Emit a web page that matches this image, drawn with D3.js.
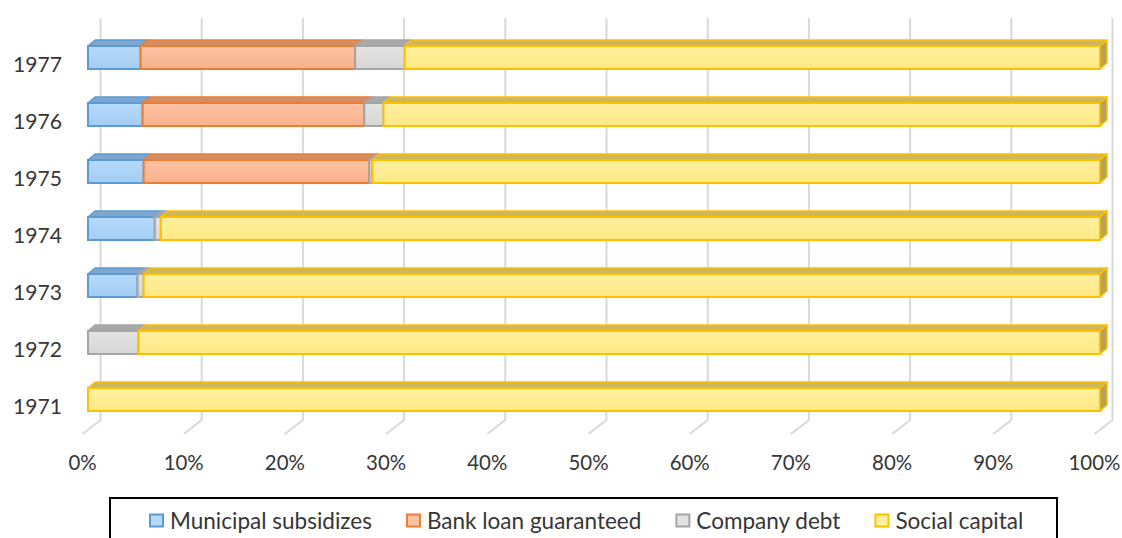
<!DOCTYPE html>
<html>
<head>
<meta charset="utf-8">
<script src="https://cdn.jsdelivr.net/npm/d3@7"></script>
<style>
  html, body { margin: 0; padding: 0; background: #fff; }
  svg { display: block; }
</style>
</head>
<body>
<svg id="chart" width="1122" height="538"></svg>
<script>
// ---- data ----
const years = ["1971", "1972", "1973", "1974", "1975", "1976", "1977"];
const seriesNames = ["Municipal subsidizes", "Bank loan guaranteed", "Company debt", "Social capital"];
const municipal = [0, 0, 4.9, 6.6, 5.5, 5.4, 5.2];
const bank      = [0, 0, 0, 0, 22.3, 21.9, 21.2];
const company   = [0, 5.0, 0.6, 0.6, 0.3, 1.9, 4.9];
const social    = [100, 95.0, 94.5, 92.8, 71.9, 70.8, 68.7];
const tickValues = [0, 0.1, 0.2, 0.3, 0.4, 0.5, 0.6, 0.7, 0.8, 0.9, 1.0];
const tickLabels = ["0%", "10%", "20%", "30%", "40%", "50%", "60%", "70%", "80%", "90%", "100%"];

// ---- styles ----
const styles = {
  "Municipal subsidizes": { front: ["#b7dafb", "#a3cdf3"], top: "#7fa6cf", stroke: "#5b9bd5" },
  "Bank loan guaranteed": { front: ["#fdc3a4", "#f8b18c"], top: "#d38e68", stroke: "#ed7d31" },
  "Company debt":         { front: ["#e3e3e3", "#d6d6d6"], top: "#a9a9a9", stroke: "#a5a5a5" },
  "Social capital":       { front: ["#fff09f", "#ffe985"], top: "#cdb65c", stroke: "#ffc000", side: "#b3a25c" }
};
const textColor = "#363636";
const fontFamily = "Lato, 'Open Sans', sans-serif";

const svg = d3.select("#chart");

// table for stacking
const table = years.map((y, i) => ({
  year: y,
  "Municipal subsidizes": municipal[i],
  "Bank loan guaranteed": bank[i],
  "Company debt": company[i],
  "Social capital": social[i]
}));
const stacked = d3.stack().keys(seriesNames).offset(d3.stackOffsetExpand)(table);

// scales
const x = d3.scaleLinear().domain([0, 1]).range([88, 1100]);
const y = d3.scaleBand().domain(years.slice().reverse()).range([46, 411]).paddingInner(34 / 57).paddingOuter(0);
const depthX = 7, depthY = 6;       // bar 3D depth
const wallDX = 13;                   // back wall offset
const floorTop = 420, floorDX = 18, floorDY = 14, gridTop = 18;

// font fitting helper
function fitSize(text, target, family) {
  const t = svg.append("text").attr("font-family", family).attr("font-size", 20).text(text);
  const w = t.node().getComputedTextLength();
  t.remove();
  return 20 * target / w;
}
const axisSize = fitSize("100%", 52, fontFamily);
const yearSize = fitSize("1977", 49, fontFamily);
const legendSize = fitSize("Municipal subsidizes", 202, fontFamily);

// gradients
const defs = svg.append("defs");
seriesNames.forEach((name, i) => {
  const g = defs.append("linearGradient").attr("id", "grad" + i)
    .attr("x1", 0).attr("y1", 0).attr("x2", 0).attr("y2", 1);
  g.append("stop").attr("offset", "0%").attr("stop-color", styles[name].front[0]);
  g.append("stop").attr("offset", "100%").attr("stop-color", styles[name].front[1]);
});

// gridlines (back wall + floor)
const grid = svg.append("g").attr("class", "grid");
tickValues.forEach(v => {
  const xb = x(v) + wallDX - 0.5;
  grid.append("path")
    .attr("d", `M${xb},${gridTop} L${xb},${floorTop} L${xb - floorDX},${floorTop + floorDY}`)
    .attr("fill", "none").attr("stroke", "#d9d9d9").attr("stroke-width", 2);
});

// axis labels
const axisG = svg.append("g");
tickValues.forEach((v, i) => {
  axisG.append("text")
    .attr("x", x(v) + wallDX - floorDX - 0.5)
    .attr("y", 470)
    .attr("text-anchor", "middle")
    .attr("font-family", fontFamily)
    .attr("font-size", axisSize)
    .attr("fill", textColor)
    .text(tickLabels[i]);
});

// year labels
const yearG = svg.append("g");
years.forEach(yr => {
  yearG.append("text")
    .attr("x", 62)
    .attr("y", y(yr) + y.bandwidth() / 2 + 5.5)
    .attr("text-anchor", "end")
    .attr("dominant-baseline", "central")
    .attr("font-family", fontFamily)
    .attr("font-size", yearSize)
    .attr("fill", textColor)
    .text(yr);
});

// bars
const bars = svg.append("g").attr("class", "bars");
const bh = y.bandwidth();
// top faces first
stacked.forEach((layer, si) => {
  const st = styles[layer.key];
  layer.forEach(d => {
    const x0 = x(d[0]), x1 = x(d[1]);
    if (x1 - x0 < 0.01) return;
    const yt = y(d.data.year);
    bars.append("path")
      .attr("d", `M${x0},${yt} L${x0 + depthX},${yt - depthY} L${x1 + depthX},${yt - depthY} L${x1},${yt} Z`)
      .attr("fill", st.top).attr("stroke", st.stroke).attr("stroke-width", 1.5).attr("stroke-linejoin", "round");
  });
});
// front faces
stacked.forEach((layer, si) => {
  const st = styles[layer.key];
  layer.forEach(d => {
    const x0 = x(d[0]), x1 = x(d[1]);
    if (x1 - x0 < 0.01) return;
    const yt = y(d.data.year);
    bars.append("rect")
      .attr("x", x0).attr("y", yt).attr("width", x1 - x0).attr("height", bh)
      .attr("fill", `url(#grad${si})`).attr("stroke", st.stroke).attr("stroke-width", 2);
    if (si === stacked.length - 1) {
      // right side face at end of stack
      bars.append("path")
        .attr("d", `M${x1},${yt} L${x1 + depthX},${yt - depthY} L${x1 + depthX},${yt + bh - depthY} L${x1},${yt + bh} Z`)
        .attr("fill", st.side).attr("stroke", st.stroke).attr("stroke-width", 1.5).attr("stroke-linejoin", "round");
    }
  });
});

// legend
const legend = svg.append("g").attr("class", "legend");
legend.append("rect")
  .attr("x", 110).attr("y", 498).attr("width", 947).attr("height", 60)
  .attr("fill", "#fff").attr("stroke", "#000").attr("stroke-width", 2);
const items = legend.append("g");
const gap = 34;
let cx = 0;
seriesNames.forEach((name, i) => {
  const st = styles[name];
  const g = items.append("g").attr("transform", `translate(${cx},0)`);
  g.append("rect").attr("x", 1).attr("y", 514.5).attr("width", 13).attr("height", 12)
    .attr("fill", st.front[0]).attr("stroke", st.stroke).attr("stroke-width", 2);
  const t = g.append("text").attr("x", 21).attr("y", 520.5)
    .attr("dominant-baseline", "central")
    .attr("font-family", fontFamily).attr("font-size", legendSize).attr("fill", textColor)
    .text(name);
  cx += 21 + t.node().getComputedTextLength() + gap;
});
items.attr("transform", `translate(${149},0)`);
</script>
</body>
</html>
